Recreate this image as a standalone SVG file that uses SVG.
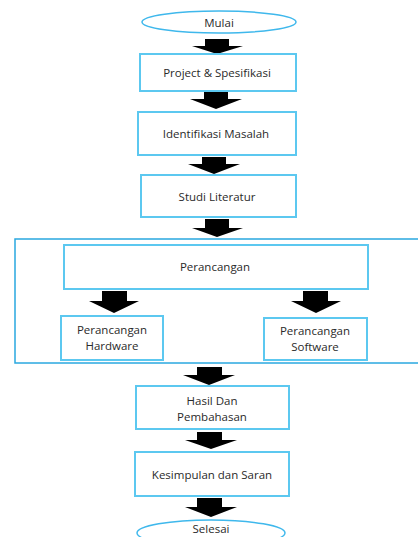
<svg xmlns="http://www.w3.org/2000/svg" width="418" height="537" viewBox="0 0 418 537">
<style>
.box{fill:#fff;stroke:#5CC8F0;stroke-width:2}
.outer{fill:none;stroke:#2AA8E0;stroke-width:1.5}
.term{fill:#fff;stroke:#3FB8EC;stroke-width:1.5}
.arr{fill:#000}
text{font-family:"Open Sans","Noto Sans",sans-serif;font-size:11.5px;fill:#2a2a2a;text-anchor:middle;dominant-baseline:central}
</style>
<rect width="418" height="537" fill="#fff"/>
<g id="group-perancangan">
<rect class="outer" x="15" y="239" width="410" height="124"/>
</g>
<g id="connectors">
<path class="arr" d="M205,39 H229 V46 H243 L217,54 L192,46 H205 Z"/>
<path class="arr" d="M204,92 H228 V99 H242 L216,109 L190,99 H204 Z"/>
<path class="arr" d="M202,157 H226 V164 H240 L214,174 L188,164 H202 Z"/>
<path class="arr" d="M205,219 H229 V228 H243 L217,237 L192,228 H205 Z"/>
<path class="arr" d="M102,291 H127 V301 H139 L114,313 L89,301 H102 Z"/>
<path class="arr" d="M303,291 H328 V301 H341 L316,313 L291,301 H303 Z"/>
<path class="arr" d="M197,367 H222 V375 H235 L209,385 L183,375 H197 Z"/>
<path class="arr" d="M197,432 H222 V440 H237 L211,449 L185,440 H197 Z"/>
<path class="arr" d="M197,498 H222 V507 H237 L211,517 L185,507 H197 Z"/>
</g>
<g id="mulai">
<ellipse class="term" cx="219" cy="22" rx="77" ry="11"/>
<text x="219" y="22">Mulai</text>
</g>
<g id="project">
<rect class="box" x="140" y="54" width="156" height="37"/>
<text x="217" y="72.5">Project &amp; Spesifikasi</text>
</g>
<g id="identifikasi">
<rect class="box" x="138" y="112" width="158" height="43"/>
<text x="216" y="133">Identifikasi Masalah</text>
</g>
<g id="studi">
<rect class="box" x="141" y="175" width="155" height="42"/>
<text x="217" y="196">Studi Literatur</text>
</g>
<g id="perancangan">
<rect class="box" x="64" y="245" width="304" height="44"/>
<text x="215" y="266">Perancangan</text>
</g>
<g id="hardware">
<rect class="box" x="61" y="316" width="102" height="44"/>
<text x="112" y="329.5">Perancangan</text>
<text x="112" y="345.5">Hardware</text>
</g>
<g id="software">
<rect class="box" x="264" y="318" width="103" height="42"/>
<text x="315" y="330.5">Perancangan</text>
<text x="315" y="346.5">Software</text>
</g>
<g id="hasil">
<rect class="box" x="136" y="386" width="153" height="43"/>
<text x="212" y="400">Hasil Dan</text>
<text x="212" y="416">Pembahasan</text>
</g>
<g id="kesimpulan">
<rect class="box" x="135" y="452" width="154" height="44"/>
<text x="212" y="474">Kesimpulan dan Saran</text>
</g>
<g id="selesai">
<ellipse class="term" cx="211" cy="533" rx="74" ry="13"/>
<text x="211" y="528">Selesai</text>
</g>
</svg>
